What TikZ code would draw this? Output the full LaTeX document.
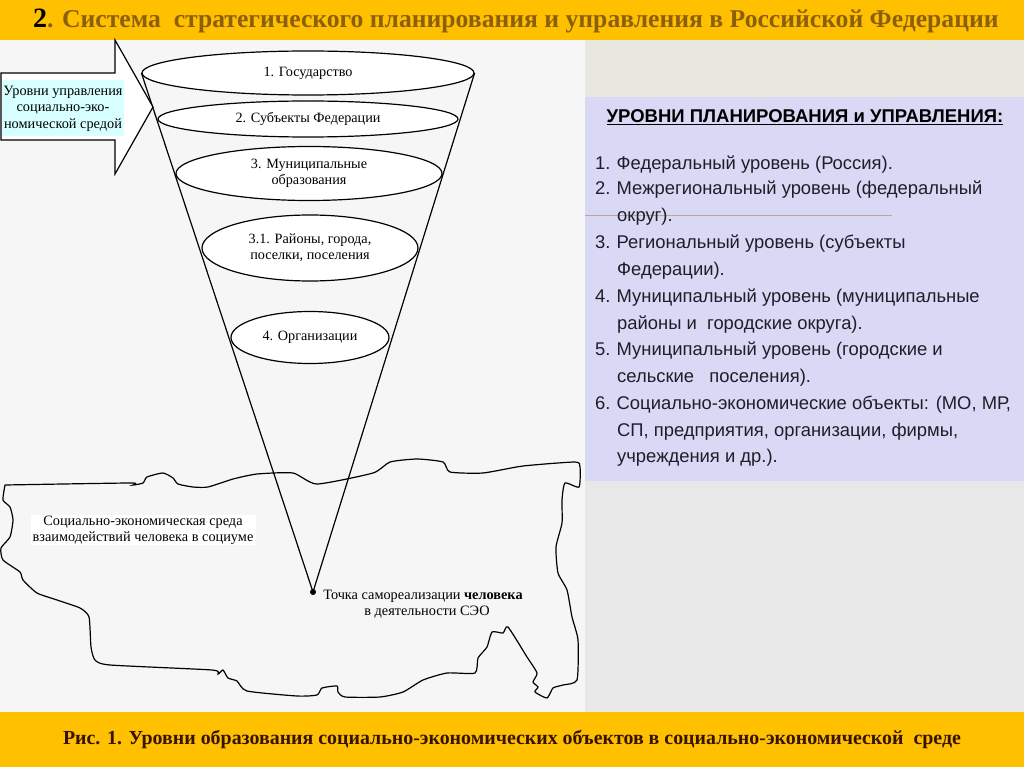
\documentclass[tikz,border=0pt]{standalone}
\usepackage{fontspec}
\setmainfont{Liberation Serif}
\newfontfamily\listfont{Liberation Sans}
\usetikzlibrary{shapes.geometric,positioning,calc,backgrounds}
\definecolor{bargold}{RGB}{255,192,0}
\definecolor{paper}{RGB}{246,246,246}
\definecolor{lavender}{RGB}{217,217,245}
\definecolor{panelgray}{RGB}{232,232,232}
\definecolor{paneltop}{RGB}{232,232,224}
\definecolor{titlebrown}{RGB}{140,95,15}
\definecolor{capdark}{RGB}{55,20,0}
\definecolor{pale}{RGB}{215,255,255}
\definecolor{ruleline}{RGB}{190,165,150}
\definecolor{listink}{RGB}{30,30,40}
\tikzset{
  level/.style={ellipse,draw=black,line width=1.2pt,fill=white,inner sep=0pt,align=center,
                font=\fontsize{14.2}{16}\selectfont},
  cone/.style={draw=black,line width=1.2pt},
  caption/.style={align=center,font=\fontsize{14.3}{16.5}\selectfont,inner sep=1pt},
  listline/.style={anchor=base west,inner sep=0pt,text=listink,font=\listfont\fontsize{18.4}{20}\selectfont},
}
\newcommand{\itemno}[1]{\makebox[21.5pt][l]{#1}}
\begin{document}
\begin{tikzpicture}[x=1pt,y=-1pt]
  \useasboundingbox (0,0) rectangle (1024,767);

  % cone
  \node[level,minimum width=332pt,minimum height=44pt] (state) at (308,73) {1. Государство};
  \node[level,minimum width=300pt,minimum height=36pt] (regions) at (308,119) {2. Субъекты Федерации};
  \node[level,minimum width=266pt,minimum height=54pt] (munic) at (309,173.5) {3. Муниципальные\\образования};
  \node[level,minimum width=216pt,minimum height=66pt] (towns) at (310,248) {3.1. Районы, города,\\поселки, поселения};
  \node[level,minimum width=158pt,minimum height=52pt] (orgs) at (310,337.5) {4. Организации};
  \coordinate (apex) at (313,592);
  \fill (apex) circle (3pt);

  % arrow
  \draw[line width=1.2pt,fill=white] (1,73) -- (115,73) -- (115,40) -- (153,107) -- (115,174) -- (115,140) -- (1,140) -- cycle;
  \node[caption,fill=pale,minimum width=121pt,minimum height=56pt] (arrowtext) at (63,108.5)
     {Уровни управления\\социально-эко-\\номической средой};

  \node[caption,fill=white,minimum width=225pt,font=\fontsize{14.3}{16}\selectfont] (envtext) at (143,530)
     {Социально-экономическая среда\\взаимодействий человека в социуме};
  \node[caption,anchor=north] (pointtext) at (423,588.5)
     {Точка самореализации \textbf{человека}\\\hspace*{8pt}в деятельности СЭО};

  % titles
  \node[anchor=base west,inner sep=0pt,text=titlebrown,font=\fontsize{25.65}{28}\selectfont\bfseries] (title) at (33,28)
     {{\color{black}\fontsize{28}{28}\selectfont 2}. Система\ \ стратегического планирования и управления в Российской Федерации};
  \node[anchor=base,inner sep=0pt,text=capdark,font=\fontsize{19.9}{22}\selectfont\bfseries] (figcaption) at (512,744)
     {Рис. 1. Уровни образования социально-экономических объектов в социально-экономической\ \ среде};

  % list
  \node[listline,anchor=base,text=black,font=\listfont\fontsize{18.5}{20}\selectfont\bfseries] (listhead) at (805,123)
     {\underline{УРОВНИ ПЛАНИРОВАНИЯ и УПРАВЛЕНИЯ:}};
  \foreach \x/\y/\t in {
    595/170/{\itemno{1.}Федеральный уровень (Россия).},
    595/195/{\itemno{2.}Межрегиональный уровень (федеральный},
    617/222/{округ).},
    595/248/{\itemno{3.}Региональный уровень (субъекты},
    617/275/{Федерации).},
    595/302/{\itemno{4.}Муниципальный уровень (муниципальные},
    617/329/{районы и\ \ городские округа).},
    595/355/{\itemno{5.}Муниципальный уровень (городские и},
    617/382/{сельские\ \ \ поселения).},
    595/409/{\itemno{6.}Социально-экономические объекты: (МО, МР,},
    617/436/{СП, предприятия, организации, фирмы,},
    617/462/{учреждения и др.).}
  }{
    \node[listline] (line\y) at (\x,\y) {\t};
  }

  \begin{scope}[on background layer]
    \fill[paper] (0,40) rectangle (585,712);
    \fill[paneltop] (585,40) rectangle (1024,97);
    \fill[lavender] (585,97) rectangle (1024,481);
    \fill[panelgray] (585,481) rectangle (1024,712);
    \fill[bargold] (0,0) rectangle (1024,40);
    \fill[bargold] (0,712) rectangle (1024,767);
    \draw[ruleline] (585,215) -- (892,215);
    % outline of the environment
    \draw[line width=1.2pt] plot[smooth,tension=0.35] coordinates {
      (5,485) (130,483) (133,485) (143,483) (147,477) (163,473) (173,478) (178,484)
      (193,487) (208,487) (233,479) (257,474) (293,473) (317,484) (373,473) (390,462)
      (417,459) (443,462) (450,472) (483,473) (523,466) (575,462) (580,467) (579,487)
      (565,483) (562,500) (562,523) (556,547) (558,573) (567,590) (572,617) (578,640)
      (577,680) (563,685) (553,688) (547,698) (535,692) (538,687) (533,682) (537,673)
      (527,657) (508,627) (503,633) (492,632) (487,647) (478,658) (475,673) (447,673)
      (423,680) (403,692) (380,697) (345,697) (338,692) (337,686) (322,688) (317,695)
      (297,696) (247,691) (237,681) (228,678) (223,670) (218,674) (212,670) (110,665)
      (95,660) (91,647) (89,617) (80,608) (57,600) (37,593) (23,580) (20,572) (3,560)
      (1,548) (10,537) (13,520) (10,507) (3,500) (5,485)};
    \draw[cone] (state.west) -- (apex);
    \draw[cone] (state.east) -- (apex);
  \end{scope}
\end{tikzpicture}
\end{document}
